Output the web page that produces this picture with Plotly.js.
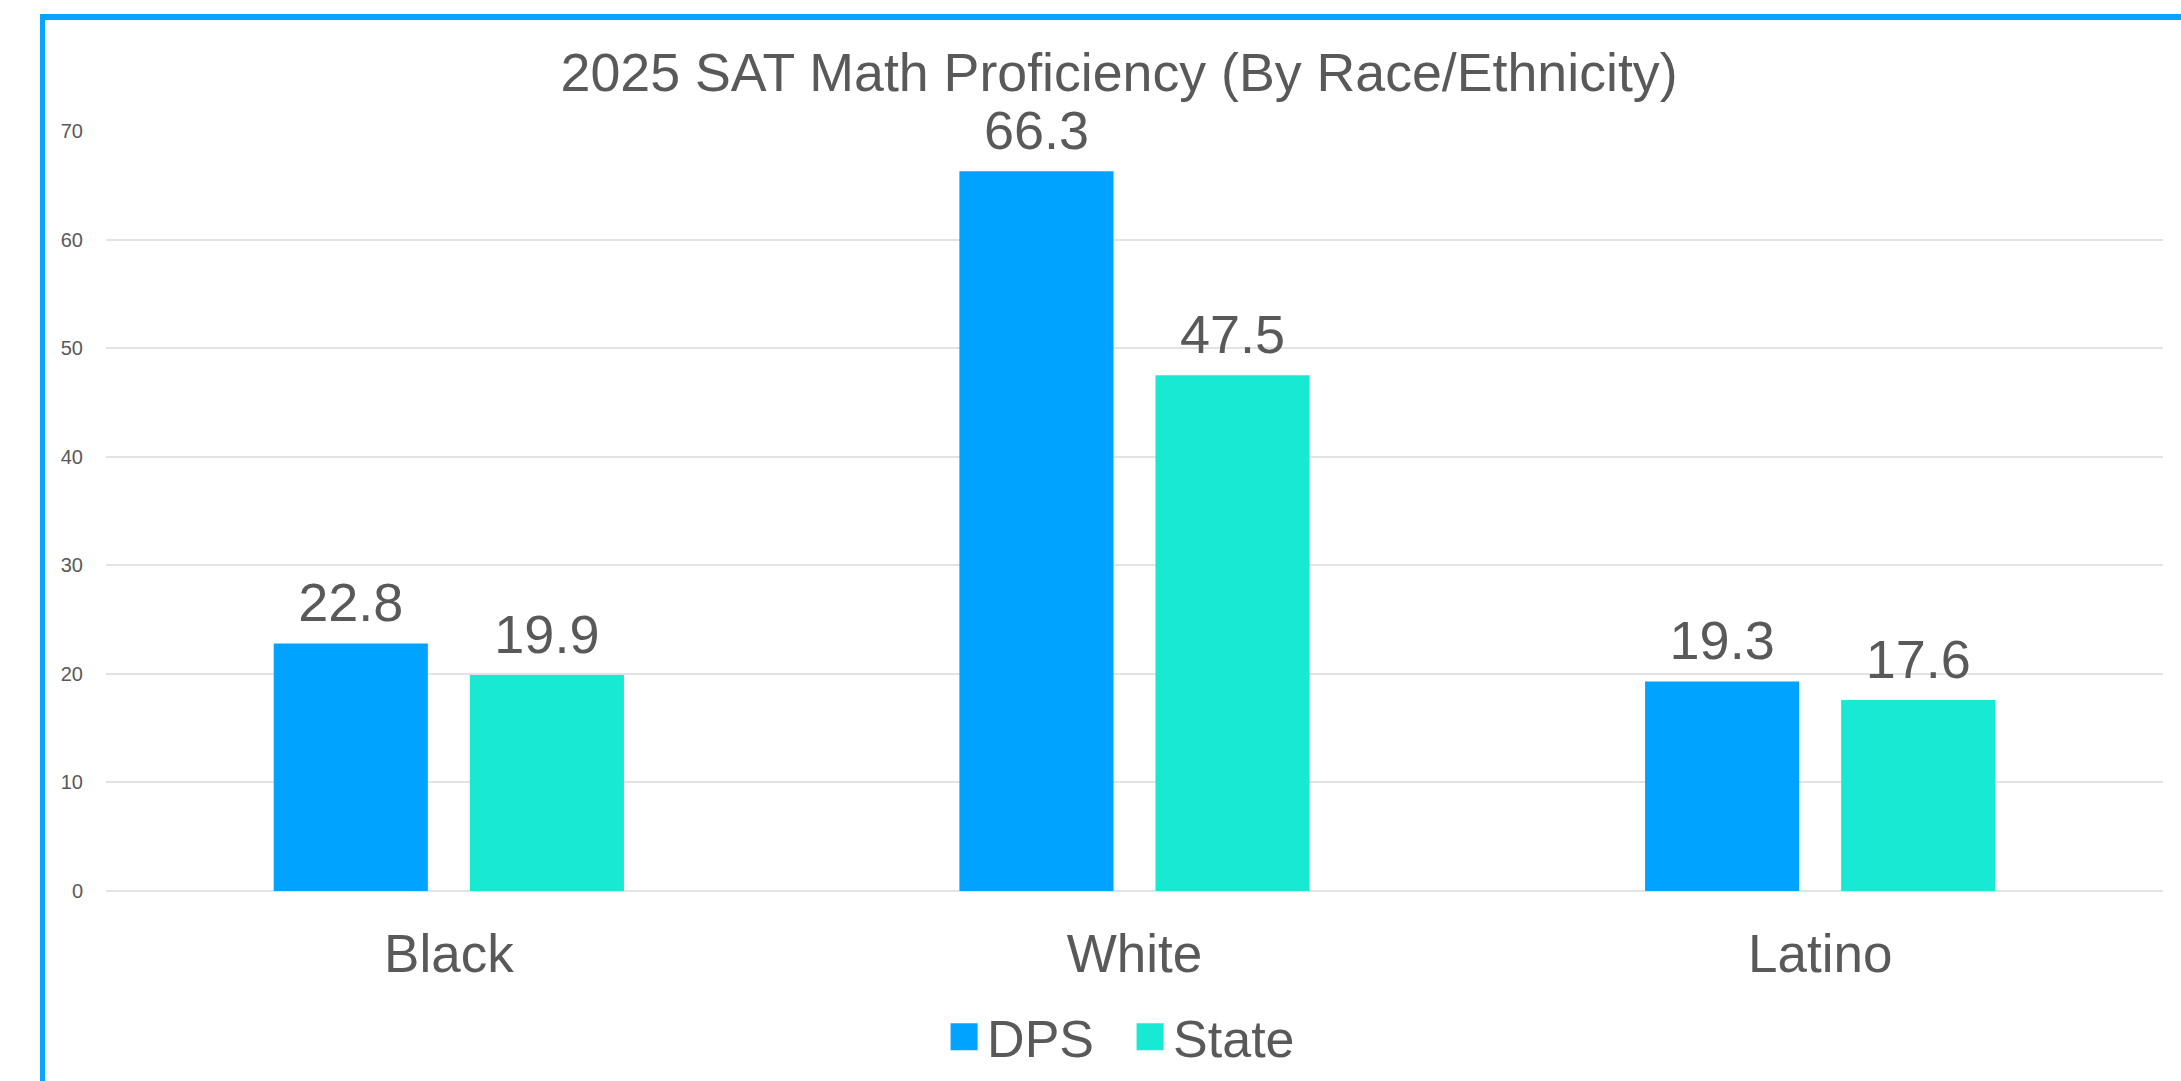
<!DOCTYPE html>
<html>
<head>
<meta charset="utf-8">
<script src="https://cdn.plot.ly/plotly-3.0.1.min.js"></script>
<style>
  html, body { margin: 0; padding: 0; background: #ffffff; overflow: hidden; }
  #wrap { position: relative; width: 2181px; height: 1081px; overflow: hidden; }
  #chart { position: absolute; left: 0; top: 0; width: 2181px; height: 1081px; }
  #frame { position: absolute; left: 40px; top: 14px; width: 2300px; height: 1200px;
           border-top: 6px solid #08A4FF; border-left: 5px solid #08A4FF; pointer-events: none; }
</style>
</head>
<body>
<div id="wrap">
  <div id="chart"></div>
  <div id="frame"></div>
</div>
<script>
const categories = ["Black", "White", "Latino"];
const dpsValues = [22.8, 66.3, 19.3];
const stateValues = [19.9, 47.5, 17.6];
const seriesNames = ["DPS", "State"];
const titleText = "2025 SAT Math Proficiency (By Race/Ethnicity)";

const textColor = "#595959";
const fontFamily = "'Liberation Sans', Arial, Helvetica, sans-serif";

const traces = [
  {
    type: "bar", name: seriesNames[0], x: categories, y: dpsValues,
    marker: { color: "#00A3FF" },
    text: dpsValues.map(v => v.toFixed(1)), textposition: "outside",
    textfont: { size: 54, color: textColor, family: fontFamily },
    cliponaxis: false, hoverinfo: "none"
  },
  {
    type: "bar", name: seriesNames[1], x: categories, y: stateValues,
    marker: { color: "#17E9D2" },
    text: stateValues.map(v => v.toFixed(1)), textposition: "outside",
    textfont: { size: 54, color: textColor, family: fontFamily },
    cliponaxis: false, hoverinfo: "none"
  }
];

const layout = {
  width: 2181, height: 1081, autosize: false,
  paper_bgcolor: "#ffffff", plot_bgcolor: "#ffffff",
  margin: { l: 106, r: 18, t: 131, b: 190, pad: 0, autoexpand: false },
  font: { family: fontFamily, color: textColor },
  title: {
    text: titleText,
    font: { size: 53.7, color: textColor, family: fontFamily },
    xref: "paper", x: 0.4925, xanchor: "center",
    yref: "container", y: 0.951, yanchor: "top"
  },
  barmode: "group",
  bargap: 0.428,
  bargroupgap: 0.214,
  xaxis: {
    type: "category",
    tickfont: { size: 53, color: textColor, family: fontFamily },
    showline: false, ticks: "", showgrid: false, zeroline: false,
    ticklabelstandoff: 27
  },
  yaxis: {
    range: [0, 70], dtick: 10, tick0: 0,
    tickfont: { size: 20, color: textColor, family: fontFamily },
    gridcolor: "#E3E3E3", gridwidth: 2,
    zeroline: true, zerolinecolor: "#E3E3E3", zerolinewidth: 2,
    showline: false, ticks: "", ticklabelstandoff: 22, fixedrange: true
  },
  showlegend: true,
  legend: {
    orientation: "h", xref: "paper", x: 0.4964, xanchor: "center",
    yref: "container", y: 0.0407, yanchor: "middle",
    font: { size: 52, color: textColor, family: fontFamily },
    itemwidth: 36, entrywidth: 135, entrywidthmode: "pixels", traceorder: "normal"
  }
};

function enlargeLegendSymbols() {
  document.querySelectorAll("#chart .legendpoints path").forEach(p => {
    if (p.dataset.origTransform === undefined) {
      p.dataset.origTransform = p.getAttribute("transform") || "";
    }
    p.setAttribute("transform", p.dataset.origTransform + " scale(2.25)");
  });
}

function raiseBarLabels() {
  document.querySelectorAll("#chart .bartext").forEach(t => {
    if (t.dataset.origTransform === undefined) {
      t.dataset.origTransform = t.getAttribute("transform") || "";
    }
    t.setAttribute("transform", "translate(0,-8) " + t.dataset.origTransform);
  });
}

Plotly.newPlot("chart", traces, layout, { staticPlot: true, displayModeBar: false }).then(gd => {
  enlargeLegendSymbols();
  raiseBarLabels();
});
</script>
</body>
</html>
